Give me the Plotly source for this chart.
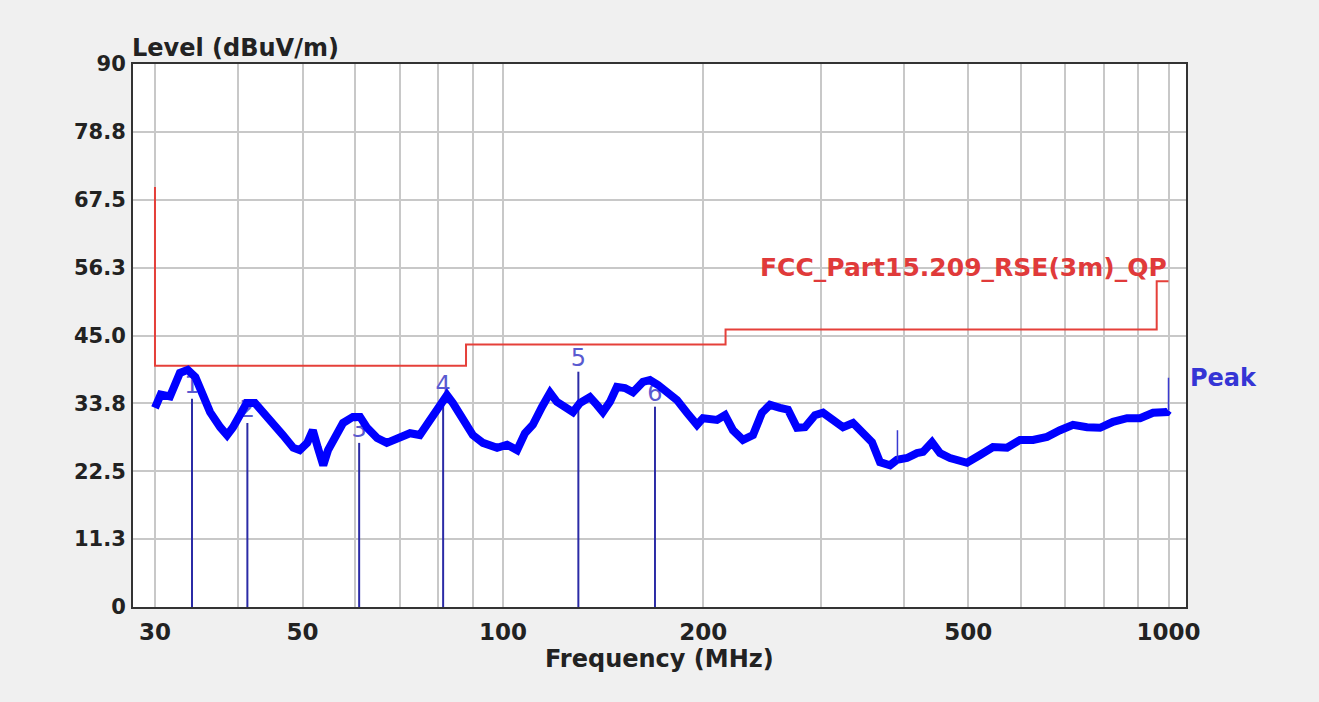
import plotly.graph_objects as go
import math

# ---- data ----
trace_freq = [30.0, 30.6, 31.6, 32.7, 33.6, 34.5, 35.3, 36.3, 37.6, 38.5, 39.3, 40.3, 41.2, 42.4, 43.6,
              45.1, 46.7, 48.4, 49.5, 50.8, 51.8, 52.7, 53.7, 54.6, 55.9, 57.5, 59.5, 61.0, 62.5,
              64.7, 66.9, 70.0, 72.5, 75.0, 77.7, 79.9, 82.4, 84.1, 87.1, 90.1, 93.3, 98.0, 101.4,
              105.0, 107.9, 110.9, 114.5, 117.7, 120.5, 123.9, 127.4, 130.5, 135.1, 138.4, 141.3,
              144.8, 148.3, 152.5, 156.8, 162.3, 166.3, 171.0, 176.4, 182.6, 189.0, 195.7, 199.8,
              209.7, 215.6, 221.6, 229.4, 237.5, 245.0, 251.9, 260.8, 268.1, 276.6, 284.3, 294.3,
              302.6, 313.3, 324.3, 335.7, 347.5, 358.5, 368.6, 381.6, 390.9, 404.7, 418.9, 427.7,
              441.2, 453.6, 469.6, 486.1, 498.0, 521.0, 544.9, 572.0, 598.3, 625.8, 656.9, 687.1,
              718.7, 754.4, 789.1, 825.4, 866.3, 906.2, 947.9, 995.0, 1000.0]
trace_level = [33.0, 35.2, 34.9, 38.8, 39.3, 38.1, 35.5, 32.3, 29.8, 28.5, 29.8, 31.8, 33.8, 33.8, 32.3,
               30.7, 28.5, 26.4, 26.0, 27.2, 29.3, 26.4, 23.5, 26.0, 28.2, 30.5, 31.5, 31.5, 29.7,
               28.0, 27.2, 28.0, 28.8, 28.5, 31.0, 33.0, 35.1, 33.8, 31.0, 28.5, 27.2, 26.4, 26.9,
               26.0, 28.8, 30.2, 33.2, 35.5, 34.0, 33.0, 32.3, 33.8, 34.8, 33.5, 32.3,
               34.0, 36.5, 36.3, 35.6, 37.3, 37.6, 36.8, 35.6, 34.3, 32.2, 30.2, 31.3,
               31.0, 31.8, 29.3, 27.7, 28.5, 32.2, 33.5, 33.0, 32.7, 29.7, 29.8, 31.8,
               32.2, 31.0, 29.8, 30.5, 29.0, 27.3, 24.0, 23.5, 24.4, 24.7, 25.5, 25.7,
               27.3, 25.5, 24.7, 24.4, 23.9, 25.2, 26.5, 26.4, 27.7, 27.7, 28.2, 29.3,
               30.2, 29.8, 29.7, 30.7, 31.3, 31.3, 32.2, 32.3, 32.6]

spike_freq = [391.5, 1000.0]
spike_base = [24.4, 32.6]
spike_top = [29.3, 38.0]

limit_freq = [30, 30, 88, 88, 216, 216, 960, 960, 1000]
limit_level = [69.6, 40, 40, 43.5, 43.5, 46, 46, 54, 54]

marker_freq = [34.1, 41.3, 60.8, 81.3, 129.8, 169.2]
marker_level = [34.5, 30.5, 27.2, 34.5, 39.0, 33.2]
marker_label = ["1", "2", "3", "4", "5", "6"]

x_grid = [30, 40, 50, 60, 70, 80, 90, 100, 200, 300, 400, 500, 600, 700, 800, 900, 1000]
x_labels = {30: "30", 50: "50", 100: "100", 200: "200", 500: "500", 1000: "1000"}
y_ticks = [0, 11.25, 22.5, 33.75, 45, 56.25, 67.5, 78.75, 90]
y_labels = ["0", "11.3", "22.5", "33.8", "45.0", "56.3", "67.5", "78.8", "90"]

FONT = "DejaVu Sans, Liberation Sans, Arial, sans-serif"

fig = go.Figure()

# marker stems
for f, lv in zip(marker_freq, marker_level):
    fig.add_trace(go.Scatter(x=[f, f], y=[0, lv], mode="lines",
                             line=dict(color="#2b2ba6", width=2), hoverinfo="skip"))
# marker numbers (drawn beneath the trace)
fig.add_trace(go.Scatter(x=marker_freq, y=marker_level, mode="text", text=marker_label,
                         textposition="top center",
                         textfont=dict(family=FONT, size=24, color="#5a5ad0")))

# limit line
fig.add_trace(go.Scatter(x=limit_freq, y=limit_level, mode="lines",
                         line=dict(color="#e5403a", width=2), hoverinfo="skip"))

# peak trace
fig.add_trace(go.Scatter(x=trace_freq, y=trace_level, mode="lines",
                         line=dict(color="#0000ff", width=8), hoverinfo="skip"))
for f, b, t in zip(spike_freq, spike_base, spike_top):
    fig.add_trace(go.Scatter(x=[f, f], y=[b, t], mode="lines",
                             line=dict(color="#3a3ad0", width=1.5), hoverinfo="skip"))

fig.update_layout(
    width=1319, height=702,
    margin=dict(l=133, r=133, t=64, b=95),
    paper_bgcolor="#f0f0f0", plot_bgcolor="#ffffff",
    showlegend=False,
    font=dict(family=FONT, color="#222222"),
    xaxis=dict(type="log", range=[1.4441, 3.0263],
               tickvals=x_grid, ticktext=[x_labels.get(v, "") for v in x_grid],
               tickfont=dict(family=FONT, size=23, color="#222222", weight="bold"),
               showgrid=True, gridcolor="#c8c8c8", gridwidth=2,
               showline=True, linecolor="#333333", linewidth=2, mirror=True,
               ticks="", ticklabelstandoff=3, zeroline=False, fixedrange=True),
    yaxis=dict(range=[0, 90], tickvals=y_ticks, ticktext=y_labels,
               tickfont=dict(family=FONT, size=21, color="#222222", weight="bold"),
               showgrid=True, gridcolor="#c8c8c8", gridwidth=2,
               showline=True, linecolor="#333333", linewidth=2, mirror=True,
               ticks="", ticklabelstandoff=1, zeroline=False, fixedrange=True),
    annotations=[
        dict(text="<b>Level (dBuV/m)</b>", xref="paper", yref="paper", x=0, y=1,
             xanchor="left", yanchor="bottom", xshift=-3, yshift=0, showarrow=False,
             font=dict(family=FONT, size=24, color="#222222")),
        dict(text="<b>Frequency (MHz)</b>", xref="paper", yref="paper", x=0.5, y=0,
             xanchor="center", yanchor="middle", yshift=-52, showarrow=False,
             font=dict(family=FONT, size=24, color="#222222")),
        dict(text="<b>FCC_Part15.209_RSE(3m)_QP</b>", xref="x", yref="y",
             x=math.log10(1000), y=56.2, xanchor="right", yanchor="middle",
             showarrow=False, font=dict(family=FONT, size=25, color="#e03a3a")),
        dict(text="<b>Peak</b>", xref="paper", yref="y", x=1, y=38,
             xanchor="left", yanchor="middle", xshift=2, showarrow=False,
             font=dict(family=FONT, size=24, color="#3535d5")),
    ],
)

fig.write_html("out.html")
